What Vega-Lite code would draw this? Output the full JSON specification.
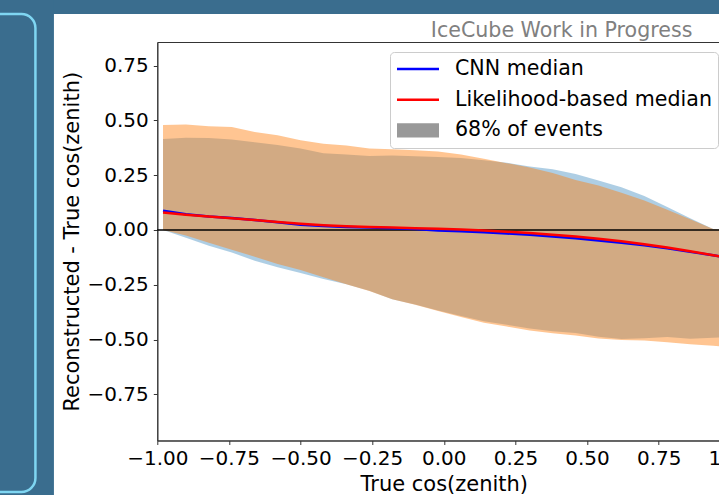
{
  "$schema": "https://vega.github.io/schema/vega-lite/v6.json",
  "width": 573,
  "height": 398.5,
  "autosize": "none",
  "padding": {"left": 157.3, "top": 42, "right": 0, "bottom": 54.5},
  "background": "#ffffff",
  "config": {
    "font": "DejaVu Sans",
    "view": {"stroke": "#333333", "strokeWidth": 1},
    "axis": {"grid": false, "domainColor": "#333333", "tickColor": "#333333", "tickSize": 4, "labelFontSize": 20, "labelColor": "#000000", "titleFontSize": 21, "titleFontWeight": "normal", "titleColor": "#000000", "zindex": 1, "labelOverlap": false, "labelFlush": false, "labelBound": false}
  },
  "datasets": {
    "one": [{"k": 1}]
  },
  "data": {"values": [
    {"x": -0.98, "series": "CNN median", "med": 0.088, "lo": 0.0, "hi": 0.415},
    {"x": -0.90, "series": "CNN median", "med": 0.072, "lo": -0.035, "hi": 0.421},
    {"x": -0.82, "series": "CNN median", "med": 0.062, "lo": -0.072, "hi": 0.420},
    {"x": -0.74, "series": "CNN median", "med": 0.055, "lo": -0.103, "hi": 0.413},
    {"x": -0.66, "series": "CNN median", "med": 0.046, "lo": -0.140, "hi": 0.400},
    {"x": -0.58, "series": "CNN median", "med": 0.035, "lo": -0.170, "hi": 0.388},
    {"x": -0.50, "series": "CNN median", "med": 0.024, "lo": -0.196, "hi": 0.372},
    {"x": -0.42, "series": "CNN median", "med": 0.018, "lo": -0.224, "hi": 0.350},
    {"x": -0.34, "series": "CNN median", "med": 0.014, "lo": -0.248, "hi": 0.345},
    {"x": -0.26, "series": "CNN median", "med": 0.011, "lo": -0.278, "hi": 0.338},
    {"x": -0.18, "series": "CNN median", "med": 0.008, "lo": -0.316, "hi": 0.340},
    {"x": -0.10, "series": "CNN median", "med": 0.004, "lo": -0.340, "hi": 0.336},
    {"x": -0.02, "series": "CNN median", "med": -0.002, "lo": -0.368, "hi": 0.333},
    {"x": 0.06, "series": "CNN median", "med": -0.006, "lo": -0.393, "hi": 0.328},
    {"x": 0.14, "series": "CNN median", "med": -0.010, "lo": -0.417, "hi": 0.318},
    {"x": 0.22, "series": "CNN median", "med": -0.016, "lo": -0.433, "hi": 0.307},
    {"x": 0.30, "series": "CNN median", "med": -0.022, "lo": -0.450, "hi": 0.290},
    {"x": 0.38, "series": "CNN median", "med": -0.030, "lo": -0.462, "hi": 0.277},
    {"x": 0.46, "series": "CNN median", "med": -0.038, "lo": -0.470, "hi": 0.256},
    {"x": 0.54, "series": "CNN median", "med": -0.048, "lo": -0.487, "hi": 0.226},
    {"x": 0.62, "series": "CNN median", "med": -0.058, "lo": -0.498, "hi": 0.195},
    {"x": 0.70, "series": "CNN median", "med": -0.070, "lo": -0.494, "hi": 0.155},
    {"x": 0.78, "series": "CNN median", "med": -0.084, "lo": -0.488, "hi": 0.105},
    {"x": 0.86, "series": "CNN median", "med": -0.100, "lo": -0.497, "hi": 0.054},
    {"x": 0.94, "series": "CNN median", "med": -0.115, "lo": -0.492, "hi": 0.004},
    {"x": 0.98, "series": "CNN median", "med": -0.125, "lo": -0.490, "hi": 0.0},
    {"x": -0.98, "series": "Likelihood-based median", "med": 0.080, "lo": 0.0, "hi": 0.479},
    {"x": -0.90, "series": "Likelihood-based median", "med": 0.070, "lo": -0.025, "hi": 0.481},
    {"x": -0.82, "series": "Likelihood-based median", "med": 0.062, "lo": -0.058, "hi": 0.473},
    {"x": -0.74, "series": "Likelihood-based median", "med": 0.054, "lo": -0.090, "hi": 0.470},
    {"x": -0.66, "series": "Likelihood-based median", "med": 0.045, "lo": -0.122, "hi": 0.447},
    {"x": -0.58, "series": "Likelihood-based median", "med": 0.036, "lo": -0.155, "hi": 0.432},
    {"x": -0.50, "series": "Likelihood-based median", "med": 0.028, "lo": -0.183, "hi": 0.410},
    {"x": -0.42, "series": "Likelihood-based median", "med": 0.022, "lo": -0.216, "hi": 0.393},
    {"x": -0.34, "series": "Likelihood-based median", "med": 0.017, "lo": -0.248, "hi": 0.385},
    {"x": -0.26, "series": "Likelihood-based median", "med": 0.014, "lo": -0.279, "hi": 0.372},
    {"x": -0.18, "series": "Likelihood-based median", "med": 0.011, "lo": -0.316, "hi": 0.369},
    {"x": -0.10, "series": "Likelihood-based median", "med": 0.008, "lo": -0.341, "hi": 0.364},
    {"x": -0.02, "series": "Likelihood-based median", "med": 0.005, "lo": -0.370, "hi": 0.358},
    {"x": 0.06, "series": "Likelihood-based median", "med": 0.002, "lo": -0.397, "hi": 0.345},
    {"x": 0.14, "series": "Likelihood-based median", "med": -0.002, "lo": -0.423, "hi": 0.325},
    {"x": 0.22, "series": "Likelihood-based median", "med": -0.008, "lo": -0.441, "hi": 0.305},
    {"x": 0.30, "series": "Likelihood-based median", "med": -0.014, "lo": -0.459, "hi": 0.285},
    {"x": 0.38, "series": "Likelihood-based median", "med": -0.022, "lo": -0.472, "hi": 0.260},
    {"x": 0.46, "series": "Likelihood-based median", "med": -0.030, "lo": -0.482, "hi": 0.228},
    {"x": 0.54, "series": "Likelihood-based median", "med": -0.040, "lo": -0.495, "hi": 0.203},
    {"x": 0.62, "series": "Likelihood-based median", "med": -0.052, "lo": -0.502, "hi": 0.170},
    {"x": 0.70, "series": "Likelihood-based median", "med": -0.065, "lo": -0.505, "hi": 0.135},
    {"x": 0.78, "series": "Likelihood-based median", "med": -0.080, "lo": -0.512, "hi": 0.092},
    {"x": 0.86, "series": "Likelihood-based median", "med": -0.097, "lo": -0.522, "hi": 0.049},
    {"x": 0.94, "series": "Likelihood-based median", "med": -0.115, "lo": -0.529, "hi": 0.004},
    {"x": 0.98, "series": "Likelihood-based median", "med": -0.125, "lo": -0.532, "hi": 0.0}
  ]},
  "layer": [
    {
      "data": {"name": "one"},
      "mark": {"type": "rect", "color": "#3a6d8e"},
      "encoding": {
        "x": {"datum": -1.8, "type": "quantitative", "scale": {"domain": [-1, 1], "nice": false, "zero": false}},
        "x2": {"datum": 1.3},
        "y": {"datum": 0.986, "type": "quantitative", "scale": {"domain": [-0.961, 0.858], "nice": false, "zero": false}},
        "y2": {"datum": 1.2}
      }
    },
    {
      "data": {"name": "one"},
      "mark": {"type": "rect", "color": "#3a6d8e"},
      "encoding": {"x": {"datum": -1.8, "type": "quantitative"}, "x2": {"datum": -1.3608}, "y": {"datum": -1.3, "type": "quantitative"}, "y2": {"datum": 1.2}}
    },
    {
      "data": {"name": "one"},
      "mark": {"type": "rect", "filled": false, "stroke": "#7fd6f2", "strokeWidth": 2.5, "cornerRadius": 14},
      "encoding": {"x": {"datum": -1.8, "type": "quantitative"}, "x2": {"datum": -1.4254}, "y": {"datum": -1.196, "type": "quantitative"}, "y2": {"datum": 0.986}}
    },
    {
      "transform": [{"filter": "datum.series === 'CNN median'"}],
      "mark": {"type": "area", "color": "#1f77b4", "opacity": 0.36},
      "encoding": {
        "x": {"field": "x", "type": "quantitative",
          "axis": {"title": "True cos(zenith)", "values": [-1, -0.75, -0.5, -0.25, 0, 0.25, 0.5, 0.75, 1], "format": ".2f", "labelPadding": 4, "titlePadding": 5}},
        "y": {"field": "lo", "type": "quantitative",
          "axis": {"title": "Reconstructed - True cos(zenith)", "values": [-0.75, -0.5, -0.25, 0, 0.25, 0.5, 0.75], "format": ".2f", "labelPadding": 5, "titlePadding": 5}},
        "y2": {"field": "hi"}
      }
    },
    {
      "transform": [{"filter": "datum.series === 'Likelihood-based median'"}],
      "mark": {"type": "area", "color": "#ff7f0e", "opacity": 0.45},
      "encoding": {"x": {"field": "x", "type": "quantitative"}, "y": {"field": "lo", "type": "quantitative"}, "y2": {"field": "hi"}}
    },
    {
      "data": {"name": "one"},
      "mark": {"type": "rule", "color": "#000000", "strokeWidth": 1.5},
      "encoding": {"y": {"datum": 0, "type": "quantitative"}, "x": {"datum": -1, "type": "quantitative"}, "x2": {"datum": 1}}
    },
    {
      "mark": {"type": "line", "strokeWidth": 2.5},
      "encoding": {
        "x": {"field": "x", "type": "quantitative"},
        "y": {"field": "med", "type": "quantitative"},
        "color": {"field": "series", "type": "nominal",
          "scale": {"domain": ["CNN median", "Likelihood-based median", "68% of events"], "range": ["#0000ff", "#ff0000", "#999999"]},
          "legend": {
            "orient": "none", "legendX": 232.7, "legendY": 10, "title": null,
            "labelFontSize": 20.6, "labelColor": "#000000", "labelOffset": 14.5, "labelLimit": 0,
            "symbolType": "stroke", "symbolSize": 1764, "symbolStrokeWidth": 2.5,
            "padding": 5.5, "rowPadding": 7.7, "clipHeight": 23,
            "strokeColor": "#cccccc", "fillColor": "#ffffffcc", "cornerRadius": 4,
            "encode": {"symbols": {"update": {
              "shape": {"signal": "datum.value === '68% of events' ? 'M-0.94,-0.28H0.94V0.28H-0.94Z' : 'stroke'"},
              "fill": {"signal": "datum.value === '68% of events' ? '#999999' : 'transparent'"},
              "stroke": {"signal": "datum.value === '68% of events' ? '#a3a3a3' : (datum.value === 'CNN median' ? '#0000ff' : '#ff0000')"}
            }}}
          }
        }
      }
    },
    {
      "data": {"name": "one"},
      "mark": {"type": "text", "text": "IceCube Work in Progress", "align": "right", "baseline": "alphabetic", "fontSize": 20.6, "color": "#808080", "font": "DejaVu Sans"},
      "encoding": {"x": {"datum": 0.8676, "type": "quantitative"}, "y": {"datum": 0.8796, "type": "quantitative"}}
    }
  ]
}
